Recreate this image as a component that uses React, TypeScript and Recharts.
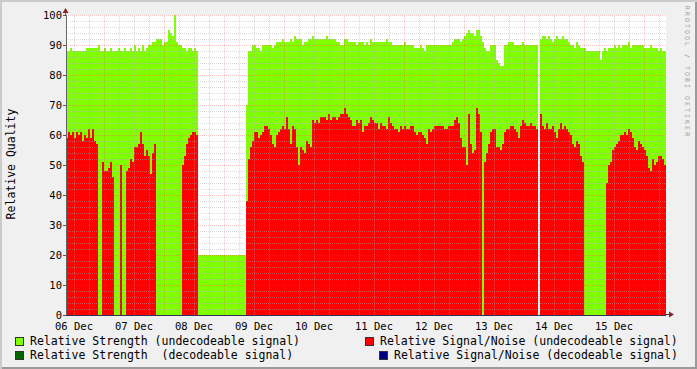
import { ComposedChart, Area, XAxis, YAxis, ReferenceLine, CartesianGrid } from "recharts";

// samples every 48 min, first one at 06 Dec 08:48 (hours counted from 06 Dec 00:00)
const START_HOUR = 8.8;
const STEP_HOURS = 0.8;

// Relative Strength (undecodeable signal)
const strength = [
  88, 88, 89, 88, 88, 88, 88, 88, 88, 88, 89, 89, 89, 89, 89, 89, 90, 88, 88, 89, 88, 88, 89, 88, 88, 88, 89, 88, 88, 89,
  88, 88, 89, 88, 90, 88, 89, 88, 90, 88, 89, 90, 90, 91, 91, 92, 92, 92, 90, 91, 91, 95, 94, 93, 100, 91, 90, 90, 89, 89,
  88, 89, 89, 88, 89, 88, 20, 20, 20, 20, 20, 20, 20, 20, 20, 20, 20, 20, 20, 20, 20, 20, 20, 20, 20, 20, 20, 20, 20, 20,
  70, 88, 88, 90, 90, 89, 89, 88, 90, 90, 90, 90, 90, 89, 90, 91, 91, 91, 92, 91, 91, 91, 92, 91, 93, 92, 92, 92, 90, 91,
  91, 92, 92, 93, 92, 92, 92, 92, 92, 92, 93, 92, 92, 92, 92, 91, 91, 90, 90, 92, 92, 91, 91, 91, 91, 90, 91, 91, 91, 90,
  91, 90, 92, 91, 91, 91, 91, 91, 91, 91, 92, 91, 91, 90, 90, 90, 90, 90, 90, 91, 90, 90, 90, 90, 89, 89, 89, 90, 89, 88,
  90, 90, 90, 90, 90, 90, 90, 90, 90, 90, 90, 90, 90, 91, 92, 92, 92, 91, 92, 93, 94, 95, 94, 94, 93, 95, 95, 93, 91, 89,
  88, 88, 90, 90, 90, 85, 84, 83, 83, 90, 90, 91, 91, 91, 90, 90, 90, 90, 91, 90, 90, 90, 90, 90, 90, 90, 0, 92, 93, 93,
  92, 93, 92, 91, 92, 93, 92, 92, 93, 92, 92, 91, 90, 90, 89, 91, 90, 89, 89, 89, 88, 88, 88, 88, 88, 88, 88, 85, 88, 89,
  88, 89, 89, 89, 90, 89, 90, 89, 90, 90, 90, 91, 89, 90, 90, 90, 90, 90, 90, 89, 89, 89, 90, 89, 89, 89, 88, 89, 88, 88,
];

// Relative Signal/Noise (undecodeable signal)
const signalNoise = [
  59, 61, 60, 61, 59, 61, 60, 61, 58, 60, 59, 62, 59, 62, 58, 57, 0, 0, 51, 48, 48, 49, 51, 46, 0, 0, 0, 50, 0, 0,
  48, 49, 52, 51, 56, 56, 57, 61, 57, 53, 55, 53, 47, 54, 57, 0, 0, 0, 0, 0, 0, 0, 0, 0, 0, 0, 0, 0, 50, 53,
  57, 59, 60, 61, 61, 60, 0, 0, 0, 0, 0, 0, 0, 0, 0, 0, 0, 0, 0, 0, 0, 0, 0, 0, 0, 0, 0, 0, 0, 0,
  38, 52, 56, 58, 61, 61, 59, 60, 61, 63, 63, 62, 60, 57, 56, 60, 61, 62, 63, 62, 66, 62, 57, 63, 62, 56, 50, 56, 55, 54,
  58, 57, 56, 65, 64, 65, 64, 66, 66, 66, 65, 67, 65, 66, 66, 65, 66, 67, 67, 69, 67, 66, 65, 63, 63, 65, 64, 65, 61, 63,
  63, 64, 66, 65, 64, 64, 62, 64, 63, 63, 62, 66, 64, 63, 62, 62, 61, 63, 62, 63, 62, 62, 63, 63, 61, 60, 61, 61, 60, 59,
  57, 62, 61, 62, 63, 63, 63, 63, 63, 62, 62, 63, 63, 63, 65, 66, 64, 59, 56, 56, 50, 67, 57, 54, 55, 69, 67, 61, 0, 51,
  54, 57, 61, 62, 62, 56, 56, 55, 57, 61, 62, 62, 63, 63, 62, 61, 59, 63, 65, 64, 63, 63, 64, 63, 63, 62, 0, 67, 63, 62,
  64, 62, 62, 63, 61, 59, 62, 64, 62, 63, 62, 61, 60, 57, 56, 58, 57, 53, 51, 0, 0, 0, 0, 0, 0, 0, 0, 0, 0, 0,
  44, 50, 51, 55, 56, 57, 58, 60, 60, 61, 60, 62, 61, 59, 56, 55, 58, 57, 56, 55, 53, 49, 48, 52, 50, 51, 53, 53, 52, 50,
];

// day labels sit at noon
const dayLabels = ["06 Dec", "07 Dec", "08 Dec", "09 Dec", "10 Dec", "11 Dec", "12 Dec", "13 Dec", "14 Dec", "15 Dec"];
const dayTicks = [12, 36, 60, 84, 108, 132, 156, 180, 204, 228];
const yTicks = [0, 10, 20, 30, 40, 50, 60, 70, 80, 90, 100];

const END_HOUR = START_HOUR + strength.length * STEP_HOURS;

const data = strength.map((v, i) => ({ t: START_HOUR + i * STEP_HOURS, strength: v, snr: signalNoise[i] }));
// closing point so the last step gets its width
data.push({ t: END_HOUR, strength: strength[strength.length - 1], snr: signalNoise[signalNoise.length - 1] });

const majorX: number[] = [];
const minorX: number[] = [];
for (let h = 12; h < END_HOUR; h += 6) (h % 24 === 0 ? majorX : minorX).push(h);
const majorY: number[] = [];
const minorY: number[] = [];
for (let v = 2; v <= 100; v += 2) (v % 10 === 0 ? majorY : minorY).push(v);

const mono = '"DejaVu Sans Mono", monospace';
const minorGrid = "rgba(170,170,170,0.45)";
const majorGrid = "rgba(255,40,40,0.28)";
const axisCol = "#33335a";
const arrowCol = "#8b2323";
const tick = { fontSize: 10.5, fill: "#000", fontFamily: mono };

const legendRows = [
  { color: "#7fff00", label: "Relative Strength (undecodeable signal)", left: 15, top: 337 },
  { color: "#ff0000", label: "Relative Signal/Noise (undecodeable signal)", left: 365, top: 337 },
  { color: "#006600", label: "Relative Strength  (decodeable signal)", left: 15, top: 351 },
  { color: "#000080", label: "Relative Signal/Noise (decodeable signal)", left: 379, top: 351 },
];

export default function App() {
  return (
    <div
      style={{
        position: "absolute", left: 0, top: 0, width: 697, height: 369,
        background: "#f0f0f0", fontFamily: mono,
        boxShadow: "inset 2px 2px 0 #cbcbcb, inset -2px -2px 0 #9a9a9a",
      }}
    >
      <ComposedChart width={697} height={369} data={data} margin={{ top: 15, right: 31, bottom: 0, left: 0 }}>
        <CartesianGrid horizontal={false} vertical={false} fill="#ffffff" />
        <XAxis
          type="number" dataKey="t" domain={[START_HOUR, END_HOUR]} allowDataOverflow
          ticks={dayTicks} interval={0} height={54}
          tickFormatter={(v) => dayLabels[dayTicks.indexOf(v)] ?? ""}
          tickLine={false} tickSize={6} tickMargin={2} tick={tick}
          axisLine={{ stroke: axisCol, shapeRendering: "crispEdges" }}
        />
        <YAxis
          type="number" domain={[0, 100]} allowDataOverflow ticks={yTicks} interval={0} width={66}
          tickSize={3} tickMargin={1} tick={tick}
          tickLine={{ stroke: "#555", shapeRendering: "crispEdges" }}
          axisLine={{ stroke: "#666", shapeRendering: "crispEdges" }}
        />
        <Area
          type="stepAfter" dataKey="strength" stroke="none" fill="#7fff00" fillOpacity={1}
          baseValue={0} dot={false} activeDot={false} isAnimationActive={false}
        />
        <Area
          type="stepAfter" dataKey="snr" stroke="none" fill="#ff0000" fillOpacity={1}
          baseValue={0} dot={false} activeDot={false} isAnimationActive={false}
        />
        {minorY.map((v) => (
          <ReferenceLine key={"my" + v} y={v} stroke={minorGrid} strokeDasharray="1 1" shapeRendering="crispEdges" />
        ))}
        {minorX.map((h) => (
          <ReferenceLine key={"mx" + h} x={h} stroke={minorGrid} strokeDasharray="1 1" shapeRendering="crispEdges" />
        ))}
        {majorY.map((v) => (
          <ReferenceLine key={"My" + v} y={v} stroke={majorGrid} strokeDasharray="1 1" shapeRendering="crispEdges" />
        ))}
        {majorX.map((h) => (
          <ReferenceLine key={"Mx" + h} x={h} stroke={majorGrid} strokeDasharray="1 1" shapeRendering="crispEdges" />
        ))}
      </ComposedChart>

      <svg width={697} height={369} style={{ position: "absolute", left: 0, top: 0, pointerEvents: "none" }}>
        <line x1={65.5} y1={10} x2={65.5} y2={15} stroke="#666" />
        <polygon points="62.5,13 68.5,13 65.5,8" fill={arrowCol} />
        <line x1={666} y1={314.5} x2={670} y2={314.5} stroke={axisCol} />
        <polygon points="669,311.5 669,317.5 674,314.5" fill={arrowCol} />
      </svg>

      <div
        style={{
          position: "absolute", left: 11, top: 164, fontSize: 11.5, lineHeight: "12px", whiteSpace: "pre",
          transform: "translate(-50%, -50%) rotate(-90deg)", color: "#000",
        }}
      >
        Relative Quality
      </div>

      <div
        style={{
          position: "absolute", left: 686, top: 72, fontSize: 6.5, letterSpacing: 2.1, lineHeight: "7px",
          whiteSpace: "pre", color: "#9c9c9c", transform: "translate(-50%, -50%) rotate(90deg)",
        }}
      >
        RRDTOOL / TOBI OETIKER
      </div>

      {legendRows.map((r) => (
        <div key={r.label} style={{ position: "absolute", left: r.left, top: r.top, height: 9, whiteSpace: "pre" }}>
          <div
            style={{
              position: "absolute", left: 0, top: 0, width: 9, height: 9, boxSizing: "border-box",
              background: r.color, border: "1px solid #333",
            }}
          />
          <div style={{ position: "absolute", left: 15, top: -2, fontSize: 11.5, lineHeight: "13px", color: "#000" }}>
            {r.label}
          </div>
        </div>
      ))}
    </div>
  );
}
